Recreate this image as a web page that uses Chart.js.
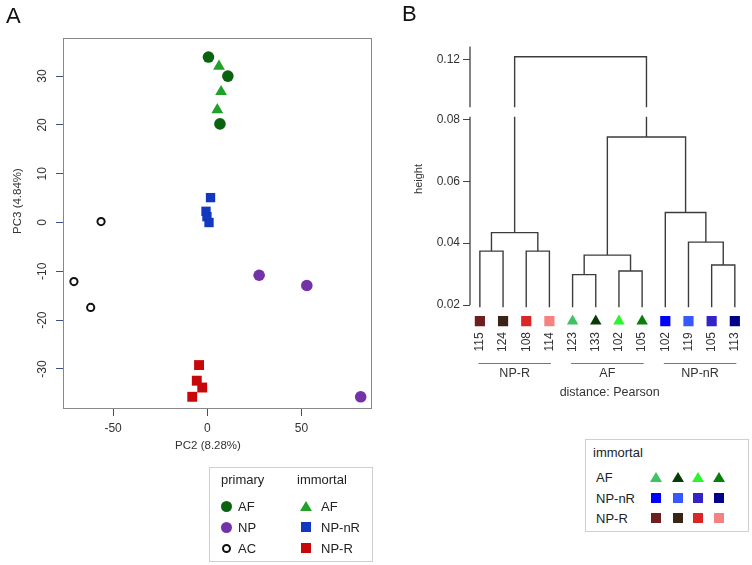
<!DOCTYPE html>
<html>
<head>
<meta charset="utf-8">
<script src="https://cdn.jsdelivr.net/npm/chart.js@4.4.1/dist/chart.umd.min.js"></script>
<style>
  body { margin: 0; background: #fff; }
  #wrap { position: relative; width: 752px; height: 565px; font-family: "Liberation Sans", Arial, sans-serif; color: #222; overflow: hidden; }
  canvas { position: absolute; top: 0; }
  .t { position: absolute; white-space: nowrap; line-height: 1; }
  .panel { font-size: 22px; color: #111; }
  .box { position: absolute; border: 1px solid #cfcfcf; box-sizing: border-box; }
  .mk { position: absolute; box-sizing: border-box; }
</style>
</head>
<body>
<div id="wrap">
  <canvas id="pca" width="380" height="470" style="left:0"></canvas>
  <canvas id="dendro" width="372" height="420" style="left:380px"></canvas>
  <div class="t panel" style="left:6px;top:5px">A</div>
  <div class="t panel" style="left:402px;top:3px">B</div>

  <!-- legend A -->
  <div class="box" style="left:209px;top:467px;width:164px;height:95px"></div>
  <div class="t" style="left:221px;top:473px;font-size:13px">primary</div>
  <div class="t" style="left:297px;top:473px;font-size:13px">immortal</div>
  <div class="t" style="left:238px;top:500px;font-size:13px">AF</div>
  <div class="t" style="left:238px;top:521px;font-size:13px">NP</div>
  <div class="t" style="left:238px;top:542px;font-size:13px">AC</div>
  <div class="t" style="left:321px;top:500px;font-size:13px">AF</div>
  <div class="t" style="left:321px;top:521px;font-size:13px">NP-nR</div>
  <div class="t" style="left:321px;top:542px;font-size:13px">NP-R</div>
  <div id="legA"></div>

  <!-- legend B -->
  <div class="box" style="left:585px;top:439px;width:164px;height:93px"></div>
  <div class="t" style="left:593px;top:446px;font-size:13px">immortal</div>
  <div class="t" style="left:596px;top:471px;font-size:13px">AF</div>
  <div class="t" style="left:596px;top:492px;font-size:13px">NP-nR</div>
  <div class="t" style="left:596px;top:512px;font-size:13px">NP-R</div>
  <div id="legB"></div>
</div>
<script>
// ---- panel A data (PC2, PC3) ----
const pc2Ticks = [-50, 0, 50];
const pc3Ticks = [-30, -20, -10, 0, 10, 20, 30];
const afPrimary = [[0.6, 33.9], [10.9, 30.0], [6.7, 20.2]];
const npPrimary = [[27.5, -10.8], [52.8, -12.9], [81.4, -35.7]];
const acPrimary = [[-56.4, 0.2], [-70.8, -12.1], [-61.9, -17.4]];
const afImmortal = [[6.2, 32.0], [7.3, 26.8], [5.3, 23.1]];
const npnrImmortal = [[1.7, 5.1], [-0.7, 2.3], [-0.2, 1.2], [0.9, 0.0]];
const nprImmortal = [[-4.4, -29.2], [-5.6, -32.4], [-2.7, -33.8], [-8.0, -35.7]];

// ---- panel B data (dendrogram) ----
const leafIds = ['115', '124', '108', '114', '123', '133', '102', '105', '102', '119', '105', '113'];
const leafGroups = ['NP-R', 'NP-R', 'NP-R', 'NP-R', 'AF', 'AF', 'AF', 'AF', 'NP-nR', 'NP-nR', 'NP-nR', 'NP-nR'];
const leafColors = ['#6d1f1f', '#3a2416', '#dc2626', '#f48282', '#3fc262', '#073c07', '#2cf52c', '#0b7d0b', '#0000ff', '#3558ff', '#3424c8', '#00008a'];
const leafShapes = ['rect', 'rect', 'rect', 'rect', 'triangle', 'triangle', 'triangle', 'triangle', 'rect', 'rect', 'rect', 'rect'];
// hclust style: negative = leaf (1-based), positive = earlier merge
const merges = [[-5, -6], [-7, -8], [-11, -12], [-1, -2], [-3, -4], [1, 2], [-10, 3], [4, 5], [-9, 7], [6, 9], [8, 10]];
const mergeHeights = [0.0298, 0.0310, 0.0329, 0.0374, 0.0374, 0.0361, 0.0403, 0.0434, 0.0499, 0.0743, 0.1208];
const leafHeight = 0.0193;
const heightTicks = [0.02, 0.04, 0.06, 0.08, 0.12];

// broken axis: values between breakLow and breakHigh are cut out
const breakLow = 0.0808, breakHigh = 0.1045, breakGap = 0.0031, axisTop = 0.1241;
const shift = breakHigh - breakLow - breakGap;
const toAxis = v => v <= breakLow ? v : v - shift;

const FONT = '"Liberation Sans", Arial, sans-serif';
Chart.defaults.font.family = FONT;
Chart.defaults.color = '#333';

const pts = arr => arr.map(p => ({ x: p[0], y: p[1] }));

// ---------- Panel A ----------
const pcaDecor = {
  id: 'pcaDecor',
  afterDraw(chart) {
    const { ctx, chartArea: a, scales: { y } } = chart;
    ctx.save();
    ctx.strokeStyle = '#888';
    ctx.lineWidth = 1;
    ctx.strokeRect(a.left + 0.5, a.top + 0.5, a.right - a.left - 1, a.bottom - a.top - 1);
    ctx.fillStyle = '#333';
    ctx.textAlign = 'center';
    ctx.textBaseline = 'middle';
    ctx.font = '12px ' + FONT;
    pc3Ticks.forEach(v => {
      ctx.save();
      ctx.translate(43, y.getPixelForValue(v));
      ctx.rotate(-Math.PI / 2);
      ctx.fillText(String(v), 0, 0);
      ctx.restore();
    });
    ctx.font = '11.5px ' + FONT;
    ctx.save();
    ctx.translate(18, 201);
    ctx.rotate(-Math.PI / 2);
    ctx.fillText('PC3 (4.84%)', 0, 0);
    ctx.restore();
    ctx.fillText('PC2 (8.28%)', 208, 446);
    ctx.restore();
  }
};

new Chart(document.getElementById('pca'), {
  type: 'scatter',
  data: {
    datasets: [
      { label: 'AF primary', data: pts(afPrimary), pointStyle: 'circle', pointRadius: 5.8, backgroundColor: '#0a640f', borderWidth: 0 },
      { label: 'NP primary', data: pts(npPrimary), pointStyle: 'circle', pointRadius: 5.8, backgroundColor: '#7332a8', borderWidth: 0 },
      { label: 'AC primary', data: pts(acPrimary), pointStyle: 'circle', pointRadius: 3.6, backgroundColor: '#fff', borderColor: '#111', borderWidth: 2 },
      { label: 'AF immortal', data: pts(afImmortal), pointStyle: 'triangle', pointRadius: 6.8, backgroundColor: '#22a12a', borderWidth: 0 },
      { label: 'NP-nR immortal', data: pts(npnrImmortal), pointStyle: 'rect', pointRadius: 6.6, backgroundColor: '#1238c0', borderWidth: 0 },
      { label: 'NP-R immortal', data: pts(nprImmortal), pointStyle: 'rect', pointRadius: 7, backgroundColor: '#c80808', borderWidth: 0 }
    ]
  },
  options: {
    responsive: false,
    animation: false,
    devicePixelRatio: 1,
    layout: { padding: { left: 0, right: 8, top: 38, bottom: 0 } },
    plugins: { legend: { display: false }, tooltip: { enabled: false } },
    scales: {
      x: {
        min: -76.6, max: 87.4,
        afterBuildTicks: s => { s.ticks = pc2Ticks.map(v => ({ value: v })); },
        afterFit: s => { s.height = 61; },
        grid: { drawOnChartArea: false, tickLength: 7, color: '#3f4f80' },
        border: { display: false },
        ticks: { font: { size: 12 }, padding: 5, color: '#333' }
      },
      y: {
        min: -38.2, max: 37.8,
        afterBuildTicks: s => { s.ticks = pc3Ticks.map(v => ({ value: v })); },
        afterFit: s => { s.width = 63; },
        grid: { drawOnChartArea: false, tickLength: 7, color: '#3f4f80' },
        border: { display: false },
        ticks: { display: false }
      }
    }
  },
  plugins: [pcaDecor]
});

// ---------- Panel B ----------
const nodeX = [], linkPts = [];
const nodeOf = k => k < 0 ? { x: -k - 1, h: leafHeight } : { x: nodeX[k - 1], h: mergeHeights[k - 1] };
function leg(x, from, to) {
  // vertical line from 'from' to 'to', cut where it crosses the axis break
  const out = [];
  const lo = Math.min(from, to), hi = Math.max(from, to);
  if (lo < breakLow && hi > breakHigh) {
    const seq = from < to ? [[from], [breakLow], null, [breakHigh], [to]] : [[from], [breakHigh], null, [breakLow], [to]];
    seq.forEach(s => out.push(s ? { x, y: toAxis(s[0]) } : { x, y: null }));
  } else {
    out.push({ x, y: toAxis(from) }, { x, y: toAxis(to) });
  }
  return out;
}
merges.forEach((m, i) => {
  const L = nodeOf(m[0]), R = nodeOf(m[1]), h = mergeHeights[i];
  nodeX.push((L.x + R.x) / 2);
  linkPts.push(...leg(L.x, L.h, h), ...leg(R.x, h, R.h), { x: R.x, y: null });
});

const dendroDecor = {
  id: 'dendroDecor',
  afterDraw(chart) {
    const { ctx, chartArea: a, scales: { x, y } } = chart;
    ctx.save();
    // broken y axis line
    ctx.strokeStyle = '#333';
    ctx.lineWidth = 1.2;
    ctx.beginPath();
    ctx.moveTo(a.left, y.getPixelForValue(toAxis(0.02)));
    ctx.lineTo(a.left, y.getPixelForValue(toAxis(breakLow)));
    ctx.moveTo(a.left, y.getPixelForValue(toAxis(breakHigh)));
    ctx.lineTo(a.left, y.getPixelForValue(toAxis(axisTop)));
    ctx.stroke();

    ctx.fillStyle = '#333';
    ctx.textAlign = 'center';
    ctx.textBaseline = 'middle';
    ctx.font = '12px ' + FONT;
    // leaf labels
    leafIds.forEach((id, i) => {
      ctx.save();
      ctx.translate(x.getPixelForValue(i), 342);
      ctx.rotate(-Math.PI / 2);
      ctx.fillText(id, 0, 0);
      ctx.restore();
    });
    // group brackets
    const groups = [...new Set(leafGroups)];
    ctx.strokeStyle = '#777';
    ctx.lineWidth = 1;
    ctx.font = '12.5px ' + FONT;
    groups.forEach(g => {
      const first = leafGroups.indexOf(g), last = leafGroups.lastIndexOf(g);
      const x0 = x.getPixelForValue(first), x1 = x.getPixelForValue(last);
      ctx.beginPath();
      ctx.moveTo(x0 - 1.5, 363.5);
      ctx.lineTo(x1 + 1.5, 363.5);
      ctx.stroke();
      ctx.fillText(g, (x0 + x1) / 2, 374);
    });
    ctx.fillText('distance: Pearson', x.getPixelForValue(5.6), 393);
    ctx.font = '11px ' + FONT;
    ctx.save();
    ctx.translate(39, 179);
    ctx.rotate(-Math.PI / 2);
    ctx.fillText('height', 0, 0);
    ctx.restore();
    ctx.restore();
  }
};

new Chart(document.getElementById('dendro'), {
  type: 'scatter',
  data: {
    datasets: [
      { label: 'links', data: linkPts, showLine: true, spanGaps: false, pointRadius: 0, borderColor: '#3c3c3c', borderWidth: 1.4 },
      {
        label: 'leaves',
        data: leafIds.map((id, i) => ({ x: i, y: 0.0148 })),
        pointStyle: leafShapes,
        pointRadius: leafShapes.map(s => s === 'rect' ? 7.2 : 6.6),
        backgroundColor: leafColors,
        borderWidth: 0
      }
    ]
  },
  options: {
    responsive: false,
    animation: false,
    devicePixelRatio: 1,
    layout: { padding: { left: 0, right: 3.6, top: 40, bottom: 20 } },
    plugins: { legend: { display: false }, tooltip: { enabled: false } },
    scales: {
      x: { min: -0.426, max: 11.43, display: false },
      y: {
        min: 0.02 - 95 / 3095, max: 0.02 + 265 / 3095,
        afterBuildTicks: s => { s.ticks = heightTicks.map(v => ({ value: toAxis(v) })); },
        afterFit: s => { s.width = 90; },
        grid: { drawOnChartArea: false, tickLength: 7, color: '#444' },
        border: { display: false },
        ticks: { font: { size: 12 }, padding: 3, color: '#333', callback: (v, i) => heightTicks[i].toFixed(2) }
      }
    }
  },
  plugins: [dendroDecor]
});

// ---------- legend markers ----------
function marker(shape, color, cx, cy, size, hollow) {
  const d = document.createElement('div');
  d.className = 'mk';
  if (shape === 'triangle') {
    d.style.cssText = `left:${cx - size / 2}px;top:${cy - size * 0.45}px;width:0;height:0;` +
      `border-left:${size / 2}px solid transparent;border-right:${size / 2}px solid transparent;border-bottom:${size * 0.87}px solid ${color};`;
  } else if (shape === 'circle') {
    d.style.cssText = `left:${cx - size / 2}px;top:${cy - size / 2}px;width:${size}px;height:${size}px;border-radius:50%;` +
      (hollow ? `border:2px solid ${color};background:#fff;` : `background:${color};`);
  } else {
    d.style.cssText = `left:${cx - size / 2}px;top:${cy - size / 2}px;width:${size}px;height:${size}px;background:${color};`;
  }
  return d;
}
const legA = document.getElementById('legA');
legA.appendChild(marker('circle', '#0a640f', 226.7, 506.7, 11));
legA.appendChild(marker('circle', '#7332a8', 226.7, 527.3, 11));
legA.appendChild(marker('circle', '#111', 226.7, 548.3, 9, true));
legA.appendChild(marker('triangle', '#22a12a', 305.7, 506.7, 12));
legA.appendChild(marker('rect', '#1238c0', 305.7, 527.3, 10));
legA.appendChild(marker('rect', '#c80808', 305.7, 548.3, 10));

const legB = document.getElementById('legB');
const legRows = [['AF', 477.7], ['NP-nR', 498.3], ['NP-R', 518.3]];
const legCols = [655.7, 677.7, 698.3, 719.3];
legRows.forEach(([g, cy]) => {
  leafGroups.map((gg, i) => gg === g ? i : -1).filter(i => i >= 0).forEach((li, k) => {
    legB.appendChild(marker(leafShapes[li], leafColors[li], legCols[k], cy, leafShapes[li] === 'rect' ? 10 : 12));
  });
});
</script>
</body>
</html>
